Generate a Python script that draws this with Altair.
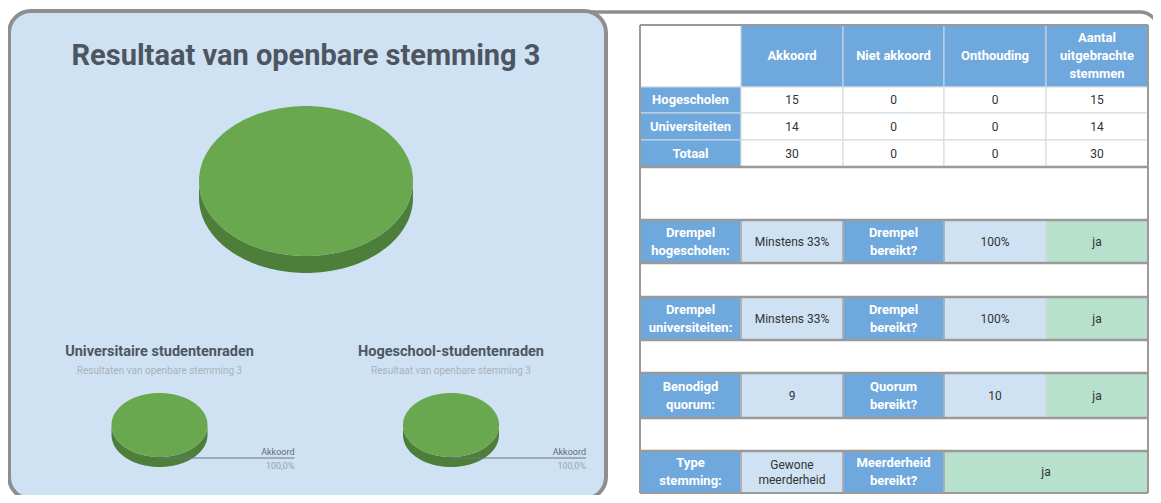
import math
import altair as alt
import pandas as pd

# ---------------- data ----------------
categories = ["Akkoord", "Niet akkoord", "Onthouding"]
hogescholen = [15, 0, 0]
universiteiten = [14, 0, 0]
totaal = [30, 0, 0]
uitgebracht = [15, 14, 30]
row_labels = ["Hogescholen", "Universiteiten", "Totaal"]
col_headers = ["Akkoord", "Niet akkoord", "Onthouding", "Aantal\nuitgebrachte\nstemmen"]
drempel_hog = ["Drempel\nhogescholen:", "Minstens 33%", "Drempel\nbereikt?", "100%", "ja"]
drempel_uni = ["Drempel\nuniversiteiten:", "Minstens 33%", "Drempel\nbereikt?", "100%", "ja"]
quorum = ["Benodigd\nquorum:", "9", "Quorum\nbereikt?", "10", "ja"]
type_stemming = ["Type\nstemming:", "Gewone\nmeerderheid", "Meerderheid\nbereikt?", "ja"]
main_title = "Resultaat van openbare stemming 3"
pie_titles = ["Universitaire studentenraden", "Hogeschool-studentenraden"]
pie_subtitles = ["Resultaten van openbare stemming 3", "Resultaat van openbare stemming 3"]

# ---------------- style / layout ----------------
BLUE, LBLUE, GREEN, WHITE = "#6fa8dc", "#cfe2f3", "#b7e1cd", "#ffffff"
slice_colors = ["#6aa84f", "#cc4125", "#999999"]
slice_dark = ["#4e7f3a", "#99301c", "#707070"]
TITLE_C = "#4d5660"
FONT = "Roboto"

xs = alt.Scale(domain=[8, 1153], nice=False, zero=False)
ys = alt.Scale(domain=[8, 495], nice=False, zero=False, reverse=True)
COLS = [640, 741, 843, 944, 1046, 1148]
ROWS = [25, 87, 113, 140, 167, 220, 263, 297, 340, 373, 418, 451, 493]


def X(f="x"):
    return alt.X(f"{f}:Q", scale=xs, axis=None)


def Y(f="y"):
    return alt.Y(f"{f}:Q", scale=ys, axis=None)


def rect_layer(rows, **mark):
    return alt.Chart(pd.DataFrame(rows)).mark_rect(**mark).encode(
        x=X(), x2="x2:Q", y=Y(), y2="y2:Q",
        fill=alt.Fill("fill:N", scale=None))


def rule_layer(rows, color, width):
    return alt.Chart(pd.DataFrame(rows)).mark_rule(color=color, strokeWidth=width).encode(
        x=X(), x2="x2:Q", y=Y(), y2="y2:Q")


def text_layer(rows, size, color, weight="normal", align="center", lh=None):
    lh = lh or size * 1.3
    adj = []
    for r in rows:
        n = str(r["text"]).count("\n")
        adj.append(dict(r, y=r["y"] - n * lh / 2))
    return alt.Chart(pd.DataFrame(adj)).mark_text(
        font=FONT, fontSize=size, color=color, fontWeight=weight, align=align,
        baseline="middle", lineBreak="\n", lineHeight=lh).encode(
        x=X(), y=Y(), text="text:N")


def pie_layers(values, cx, cy, rx, ry, depth):
    total = sum(values)
    k = ry / rx
    d = depth / rx
    tops, sides = [], []
    start = 0.0
    for i, v in enumerate(values):
        if v <= 0:
            continue
        frac = v / total
        a0 = -math.pi / 2 + 2 * math.pi * start
        a1 = a0 + 2 * math.pi * frac
        start += frac
        n = max(10, int(180 * frac))
        pts = [(math.cos(a0 + (a1 - a0) * j / n), k * math.sin(a0 + (a1 - a0) * j / n)) for j in range(n + 1)]
        if frac < 0.9999:
            pts = [(0.0, 0.0)] + pts
        path = "M" + " L".join(f"{px:.4f},{py:.4f}" for px, py in pts) + " Z"
        tops.append(dict(x=cx, y=cy, path=path, size=(2 * rx) ** 2, fill=slice_colors[i]))
        s, e = max(a0, 0.0), min(a1, math.pi)
        if e > s:
            m = max(6, int(90 * (e - s) / math.pi))
            up = [(math.cos(s + (e - s) * j / m), k * math.sin(s + (e - s) * j / m)) for j in range(m + 1)]
            down = [(px, py + d) for px, py in reversed(up)]
            sp = "M" + " L".join(f"{px:.4f},{py:.4f}" for px, py in up + down) + " Z"
            sides.append(dict(x=cx, y=cy, path=sp, size=(2 * rx) ** 2, fill=slice_dark[i]))

    def lay(rows):
        return alt.Chart(pd.DataFrame(rows)).mark_point(filled=True, opacity=1, strokeWidth=0).encode(
            x=X(), y=Y(), shape=alt.Shape("path:N", scale=None),
            size=alt.Size("size:Q", scale=None), fill=alt.Fill("fill:N", scale=None))
    return [lay(sides), lay(tops)]


layers = []

# panels
layers.append(rect_layer([dict(x=560, x2=1158, y=12, y2=560, fill=WHITE)],
                         stroke="#8e8e8e", strokeWidth=3.5, cornerRadius=18))
layers.append(rect_layer([dict(x=9, x2=606, y=11, y2=499, fill=LBLUE)],
                         stroke="#8e8e8e", strokeWidth=4, cornerRadius=22))

# ---- pies ----
layers += pie_layers(totaal, 306, 181, 107, 75, 17)
small = [(universiteiten, 159.5), (hogescholen, 451)]
lead, lab1, lab2, ttl, sub = [], [], [], [], []
for (vals, cx), t, st in zip(small, pie_titles, pie_subtitles):
    layers += pie_layers(vals, cx, 425, 48, 32, 10)
    tot = sum(vals)
    i = max(range(len(vals)), key=lambda j: vals[j])
    lead.append(dict(x=cx - 1, x2=cx + 135, y=458, y2=458))
    lab1.append(dict(x=cx + 135, y=452, text=categories[i]))
    lab2.append(dict(x=cx + 135, y=466, text=f"{100 * vals[i] / tot:.1f}%".replace(".", ",")))
    ttl.append(dict(x=cx, y=352, text=t))
    sub.append(dict(x=cx, y=371, text=st))
layers.append(rule_layer(lead, "#6d7782", 1))
layers.append(text_layer(lab1, 9, "#5f6b75", align="right"))
layers.append(text_layer(lab2, 9, "#9aa4ad", align="right"))
layers.append(text_layer(ttl, 14.5, TITLE_C, weight="bold"))
layers.append(text_layer(sub, 10, "#a8b2bc"))
layers.append(text_layer([dict(x=306, y=56, text=main_title)], 29, TITLE_C, weight="bold"))

# ---- table ----
cells = []
def cell(c0, c1, r, fill):
    cells.append(dict(x=COLS[c0], x2=COLS[c1], y=ROWS[r], y2=ROWS[r + 1], fill=fill))

cell(0, 1, 0, WHITE)
for c in range(1, 5):
    cell(c, c + 1, 0, BLUE)
for r in (1, 2, 3):
    cell(0, 1, r, BLUE)
    for c in range(1, 5):
        cell(c, c + 1, r, WHITE)
for r in (4, 6, 8, 10):
    cell(0, 5, r, WHITE)
for r in (5, 7, 9):
    for c, f in enumerate([BLUE, LBLUE, BLUE, LBLUE, GREEN]):
        cell(c, c + 1, r, f)
for c, f in enumerate([BLUE, LBLUE, BLUE]):
    cell(c, c + 1, 11, f)
cell(3, 5, 11, GREEN)
layers.append(rect_layer(cells, stroke="#d3d9e0", strokeWidth=1))

# thick separators
hl = [dict(x=COLS[0], x2=COLS[5], y=ROWS[r], y2=ROWS[r]) for r in range(4, 12)]
vl = [dict(x=COLS[c], x2=COLS[c], y=ROWS[r], y2=ROWS[r + 1]) for r in (5, 7, 9, 11) for c in (1, 2, 3)]
layers.append(rule_layer(vl, "#a5a5a5", 1.5))
layers.append(rule_layer(hl, "#9a9a9a", 2.5))
outer = [dict(x=COLS[0], x2=COLS[5], y=ROWS[0], y2=ROWS[0]), dict(x=COLS[0], x2=COLS[5], y=ROWS[-1], y2=ROWS[-1]),
         dict(x=COLS[0], x2=COLS[0], y=ROWS[0], y2=ROWS[-1]), dict(x=COLS[5], x2=COLS[5], y=ROWS[0], y2=ROWS[-1])]
layers.append(rule_layer(outer, "#9a9a9a", 2))

def cx_(c0, c1=None):
    return (COLS[c0] + COLS[(c1 if c1 is not None else c0 + 1)]) / 2

def cy_(r):
    return (ROWS[r] + ROWS[r + 1]) / 2

white_bold, dark = [], []
for c, h in enumerate(col_headers):
    white_bold.append(dict(x=cx_(c + 1), y=cy_(0), text=h))
table_vals = [hogescholen + [uitgebracht[0]], universiteiten + [uitgebracht[1]], totaal + [uitgebracht[2]]]
for r, (lab, vals) in enumerate(zip(row_labels, table_vals), start=1):
    white_bold.append(dict(x=cx_(0), y=cy_(r), text=lab))
    for c, v in enumerate(vals):
        dark.append(dict(x=cx_(c + 1), y=cy_(r), text=str(v)))
for r, row in zip((5, 7, 9), (drempel_hog, drempel_uni, quorum)):
    for c, t in enumerate(row):
        (white_bold if c in (0, 2) else dark).append(dict(x=cx_(c), y=cy_(r), text=t))
for c, t in enumerate(type_stemming[:3]):
    (white_bold if c in (0, 2) else dark).append(dict(x=cx_(c), y=cy_(11), text=t))
dark.append(dict(x=cx_(3, 5), y=cy_(11), text=type_stemming[3]))
layers.append(text_layer(white_bold, 13, "#ffffff", weight="bold", lh=18))
layers.append(text_layer(dark, 12, "#333333", lh=15))

chart = alt.layer(*layers).properties(
    width=1145, height=487, padding=0,
    autosize=alt.AutoSizeParams(type="none"),
    background="#ffffff",
).configure_view(stroke=None)

chart.save("out.html", embed_options={"renderer": "svg", "actions": False})
